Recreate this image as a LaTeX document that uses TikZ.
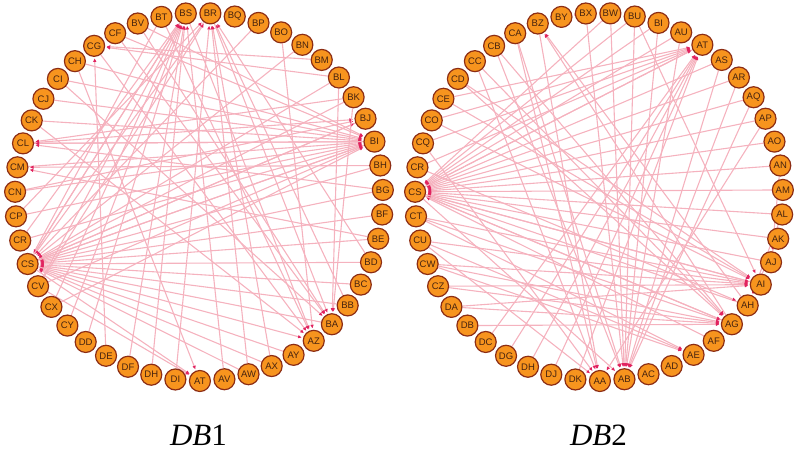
\documentclass[tikz,border=0pt]{standalone}
\usepackage{fontspec}
\setmainfont{Liberation Serif}
\newfontfamily\nodefont{Liberation Sans}
\usetikzlibrary{arrows.meta}
\definecolor{nodeorange}{RGB}{247,148,30}
\definecolor{nodeborder}{RGB}{140,45,20}
\definecolor{nodetext}{RGB}{70,35,15}
\definecolor{edgepink}{RGB}{245,178,190}
\definecolor{arrowred}{RGB}{225,35,95}
\pgfdeclarelayer{bg}
\pgfsetlayers{bg,main}
\tikzset{
 gnode/.style={circle, fill=nodeorange, draw=nodeborder, line width=1.2pt, minimum size=21pt, inner sep=0pt, font=\nodefont\fontsize{9.5}{9.5}\selectfont, text=nodetext},
 gedge/.style={draw=edgepink, line width=1.1pt, -{Triangle[length=3.5pt,width=3pt,color=arrowred]}, shorten >=1.5pt},
 captext/.style={font=\fontsize{31}{31}\selectfont, inner sep=0pt, anchor=base},
}
\begin{document}
\begin{tikzpicture}[x=1pt,y=1pt]
\useasboundingbox (0,0) rectangle (797,-456);
% ---------- DB1 ----------
\begin{scope}[shift={(199,-197)}]
\foreach \nm [count=\k from 0] in {BG,BH,BI,BJ,BK,BL,BM,BN,BO,BP,BQ,BR,BS,BT,BV,CF,CG,CH,CI,CJ,CK,CL,CM,CN,CP,CR,CS,CV,CX,CY,DD,DE,DF,DH,DI,AT,AV,AW,AX,AY,AZ,BA,BB,BC,BD,BE,BF}
  \node[gnode] (L-\nm) at ({2.2+\k*7.6596}:184pt) {\nm};
\end{scope}
% ---------- DB2 ----------
\begin{scope}[shift={(599,-197)}]
\foreach \nm [count=\k from 0] in {AM,AN,AO,AP,AQ,AR,AS,AT,AU,BI,BU,BW,BX,BY,BZ,CA,CB,CC,CD,CE,CO,CQ,CR,CS,CT,CU,CW,CZ,DA,DB,DC,DG,DH,DJ,DK,AA,AB,AC,AD,AE,AF,AG,AH,AI,AJ,AK,AL}
  \node[gnode] (R-\nm) at ({2.2+\k*7.6596}:184pt) {\nm};
\end{scope}
\begin{pgfonlayer}{bg}
\foreach \a/\b in {BT/CS,BS/CS,BR/CS,BP/CS,BN/CS,BL/CS,BK/CS,BJ/CS,BI/CS,BH/CS,BG/CS,BF/CS,BE/CS,BC/CS,BB/CS,BA/CS,AY/CS,AX/CS,AW/CS,BD/CS,
  CK/BI,CL/BI,CM/BI,CN/BI,CJ/BI,CI/BI,CH/BI,CP/BI,CR/BI,CV/BI,CX/BI,BV/BI,CF/BI,CS/BI,
  CS/BJ,CL/BJ,CN/BJ,
  CS/BS,CV/BS,CX/BS,CY/BS,DD/BS,AV/BS,DH/BS,CR/BS,DF/BS,
  CP/BR,DI/BR,AX/BR,BD/BR,CV/BR,AW/BR,BB/BR,
  DE/CG,BL/CG,BM/CG,
  BI/CL,BG/CL,BK/CL,
  BH/CM,BE/CM,
  CS/AZ,CG/AZ,CK/AZ,BT/AZ,BO/AZ,BS/AZ,
  CF/BA,BV/BA,BL/BA,BK/BA,CI/BA,BR/BA,
  CS/AT,CV/AT,CH/AT}
  \draw[gedge] (L-\a) -- (L-\b);
\foreach \a/\b in {AU/CS,AS/CS,AR/CS,AQ/CS,AP/CS,AO/CS,AN/CS,AM/CS,AL/CS,AK/CS,AJ/CS,AI/CS,AH/CS,BI/CS,BU/CS,BW/CS,AG/CS,AF/CS,AT/CS,
  CS/AT,CR/AT,CQ/AT,DH/AT,DG/AT,DJ/AT,DK/AT,DC/AT,CO/AT,CE/AT,
  CW/AI,CZ/AI,CU/AI,CT/AI,CO/AI,CD/AI,DA/AI,CE/AI,CS/AI,BU/AI,
  CW/AG,CZ/AG,DA/AG,DB/AG,CT/AG,CC/AG,CB/AG,CD/AG,CS/AG,
  BX/AB,BU/AB,BW/AB,BI/AB,AU/AB,CA/AB,CB/AB,AS/AB,AR/AB,AQ/AB,CS/AB,
  BZ/AA,CA/AA,CC/AA,CQ/AA,AP/AA,CU/AA,
  AG/BZ,AH/BZ,BX/BY,
  CU/AE,CT/AE,CW/AE,
  AL/AH,AK/AH,CR/AH,AN/AJ}
  \draw[gedge] (R-\a) -- (R-\b);
\end{pgfonlayer}
\node[captext] (cap1) at (198.5,-445.5) {\textit{DB}1};
\node[captext] (cap2) at (598.5,-445.5) {\textit{DB}2};
\end{tikzpicture}
\end{document}
